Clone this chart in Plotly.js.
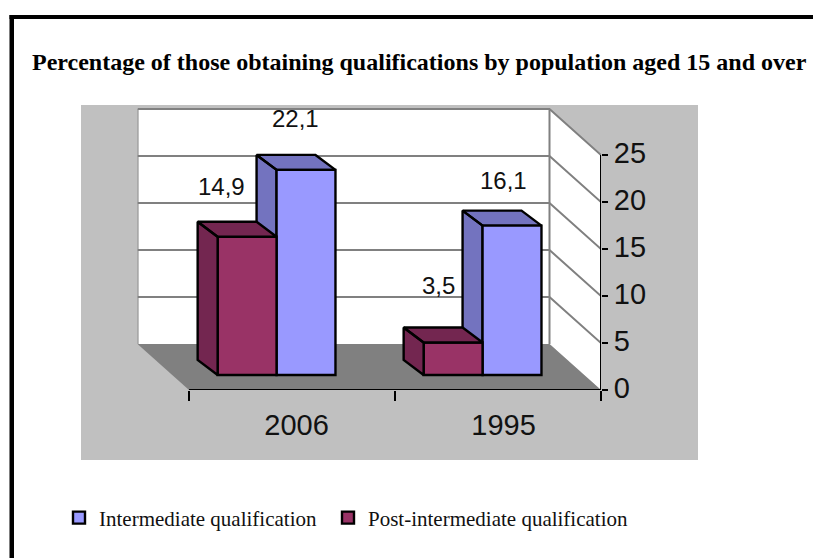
<!DOCTYPE html>
<html><head><meta charset="utf-8">
<script src="https://cdn.plot.ly/plotly-3.0.1.min.js"></script>
<style>html,body{margin:0;padding:0;background:#fff}#c{width:813px;height:558px}</style>
</head><body><div id="c"></div>
<script>
const categories = ['2006', '1995'];
const intermediate = [22.1, 16.1];
const postIntermediate = [14.9, 3.5];
const intermediateLabels = ['22,1', '16,1'];
const postIntermediateLabels = ['14,9', '3,5'];
const yTicks = [0, 5, 10, 15, 20, 25];

const W = 813, H = 558;
const px = v => v / W, py = v => 1 - v / H;
const RED = '#993366', REDD = '#732650', BLUE = '#9999FF', BLUED = '#7373BF';

// oblique depth of the box, in axis units
const wallDx = 0.25, wallDy = 4.894;
const barW = 0.286, barShift = -0.075, barDx = 0.097, barDy = 1.616;
const xIdx = categories.map((c, i) => i);

function faces(vals, leftOf) {
  const xs = [], ys = [];
  vals.forEach((v, i) => {
    const a = i + leftOf, b = a + barW;
    xs.push(a, a, a - barDx, a - barDx, a, null, a, b, b - barDx, a - barDx, a, null);
    ys.push(0, v, v + barDy, barDy, 0, null, v, v, v + barDy, v + barDy, v, null);
  });
  return {x: xs, y: ys};
}
const xL = -0.5, xR = 1.5, yMax = yTicks[yTicks.length - 1];
const poly = (x, y, fill) => ({type: 'scatter', mode: 'none', x, y, fill: 'toself', fillcolor: fill,
  xaxis: 'x', yaxis: 'y', showlegend: false, hoverinfo: 'skip', cliponaxis: false});

const gx = [], gy = [];
yTicks.forEach(t => {
  if (t === 0) return;
  gx.push(xR, xR - wallDx, xL - wallDx, null);
  gy.push(t, t + wallDy, t + wallDy, null);
});
gx.push(xL - wallDx, xL - wallDx, null, xR - wallDx, xR - wallDx);
gy.push(wallDy, yMax + wallDy, null, 0 + wallDy, yMax + wallDy);

const blueF = faces(intermediate, barShift);
const redF = faces(postIntermediate, barShift - barW);
const faceTrace = (f, color, yaxis) => ({type: 'scatter', mode: 'lines', x: f.x, y: f.y, fill: 'toself', fillcolor: color,
  line: {color: '#000', width: 2.4}, xaxis: 'x', yaxis, showlegend: false, hoverinfo: 'skip', cliponaxis: false});
const barTrace = (name, vals, color, off, legendwidth) => ({type: 'bar', name, x: xIdx, y: vals, width: barW, offset: off, legendwidth,
  marker: {color, line: {color: '#000', width: 2.4}}, xaxis: 'x', yaxis: 'y3', cliponaxis: false});

const traces = [
  poly([xL - wallDx, xR - wallDx, xR - wallDx, xL - wallDx], [wallDy, wallDy, yMax + wallDy, yMax + wallDy], '#FFFFFF'),
  poly([xR - wallDx, xR, xR, xR - wallDx], [wallDy, 0, yMax, yMax + wallDy], '#FFFFFF'),
  poly([xL, xR, xR - wallDx, xL - wallDx], [0, 0, wallDy, wallDy], '#808080'),
  {type: 'scatter', mode: 'lines', x: gx, y: gy, line: {color: '#808080', width: 2}, xaxis: 'x', yaxis: 'y',
   showlegend: false, hoverinfo: 'skip', cliponaxis: false},
  {type: 'scatter', mode: 'lines', x: [xL, xR, xR], y: [0, 0, yMax], line: {color: '#000', width: 2}, xaxis: 'x', yaxis: 'y',
   showlegend: false, hoverinfo: 'skip', cliponaxis: false},
  faceTrace(blueF, BLUED, 'y2'),
  barTrace('Intermediate qualification', intermediate, BLUE, barShift, 224),
  barTrace('Post-intermediate qualification', postIntermediate, RED, barShift - barW, 300),
  faceTrace(redF, REDD, 'y3')
];

const labelFont = {family: 'Liberation Sans, Arial, sans-serif', size: 24, color: '#111'};
const note = (x, y, text, xshift, yshift) => ({x, y, text, xref: 'x', yref: 'y3', showarrow: false,
  xanchor: 'center', yanchor: 'middle', xshift, yshift, font: labelFont});
const midBlue = barShift + barW / 2, midRed = barShift - barW / 2;
const annotations = [
  note(xIdx[0] + midBlue, intermediate[0], intermediateLabels[0], -11, 51),
  note(xIdx[1] + midBlue, intermediate[1], intermediateLabels[1], -9, 45),
  note(xIdx[0] + midRed, postIntermediate[0], postIntermediateLabels[0], -26, 50),
  note(xIdx[1] + midRed, postIntermediate[1], postIntermediateLabels[1], -15, 57)
];

const rect = (x0, y0, x1, y1, color) => ({type: 'rect', xref: 'paper', yref: 'paper', layer: 'below',
  x0: px(x0), x1: px(x1), y0: py(y0), y1: py(y1), fillcolor: color, line: {width: 0}});

const dom = [py(390), py(105)];
const hiddenY = {overlaying: 'y', visible: false, range: [-1.616, 29.095], fixedrange: true};
const layout = {
  width: W, height: H, margin: {l: 0, r: 0, t: 0, b: 0},
  paper_bgcolor: '#fff', plot_bgcolor: 'rgba(0,0,0,0)',
  font: {family: 'Liberation Sans, Arial, sans-serif', color: '#111'},
  title: {text: 'Percentage of those obtaining qualifications by population aged 15 and over',
    x: px(32), xref: 'paper', xanchor: 'left', y: py(62), yref: 'paper', yanchor: 'middle',
    font: {family: 'Liberation Serif, Times New Roman, serif', size: 24, color: '#000', weight: 'bold'}},
  barmode: 'overlay',
  xaxis: {domain: [px(137.5), px(601)], range: [xL - wallDx, xR], tickmode: 'array', tickvals: [0.022, 1.027], ticktext: categories,
    ticks: '', ticklen: 0, showgrid: false, zeroline: false, showline: false,
    tickfont: {size: 29, color: '#111'}, ticklabelstandoff: 15,
    minor: {tickmode: 'array', tickvals: [-0.5, 0.5, 1.5], ticks: 'outside', ticklen: 10, tickwidth: 2, tickcolor: '#000', showgrid: false}},
  yaxis: {domain: dom, range: [0, 30.32], side: 'right', tickmode: 'array', tickvals: yTicks, ticks: 'outside', ticklen: 6,
    tickwidth: 2, tickcolor: '#000', showgrid: false, zeroline: false, showline: false, ticklabelshift: -2,
    tickfont: {size: 29, color: '#111'}},
  yaxis2: hiddenY, yaxis3: Object.assign({}, hiddenY),
  showlegend: true,
  legend: {orientation: 'h', x: px(59), y: py(518), xanchor: 'left', yanchor: 'middle',
    font: {family: 'Liberation Serif, Times New Roman, serif', size: 21, color: '#111'}, bgcolor: 'rgba(0,0,0,0)', traceorder: 'normal'},
  shapes: [
    rect(81, 105, 698, 460, '#C0C0C0'),
    rect(9.5, 15, 14, H, '#000'),
    rect(9.5, 15, W, 19, '#000')
  ],
  annotations
};
Plotly.newPlot('c', traces, layout, {displayModeBar: false, staticPlot: true});
</script></body></html>
